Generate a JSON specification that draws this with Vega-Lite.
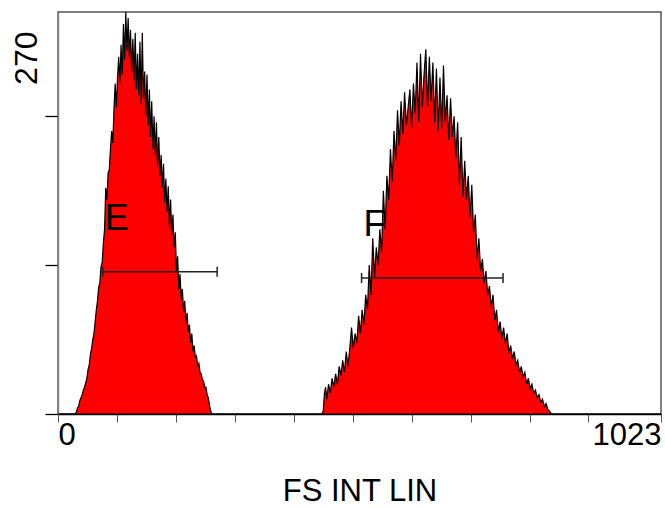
{
  "$schema": "https://vega.github.io/schema/vega-lite/v6.json",
  "autosize": {"type": "none"},
  "padding": {"left": 58, "top": 12, "right": 4, "bottom": 94},
  "width": 603,
  "height": 402,
  "background": "white",
  "config": {
    "view": {"stroke": "#555", "strokeWidth": 1.5},
    "font": "Liberation Sans"
  },
  "datasets": {
    "hist": [
      {"ch":0,"n":0},{"ch":28,"n":0},{"ch":31,"n":1},{"ch":33,"n":4},{"ch":35,"n":5},{"ch":37,"n":9},{"ch":39,"n":11},{"ch":41,"n":13},{"ch":43,"n":16},{"ch":45,"n":18},{"ch":47,"n":21},{"ch":49,"n":24},{"ch":51,"n":30},{"ch":53,"n":33},{"ch":55,"n":40},{"ch":57,"n":44},{"ch":59,"n":50},{"ch":61,"n":54},{"ch":63,"n":62},{"ch":65,"n":70},{"ch":67,"n":76},{"ch":69,"n":85},{"ch":71,"n":88},{"ch":73,"n":99},{"ch":75,"n":102},{"ch":77,"n":115},{"ch":79,"n":124},{"ch":81,"n":152},{"ch":83,"n":144},{"ch":85,"n":162},{"ch":87,"n":164},{"ch":89,"n":178},{"ch":91,"n":190},{"ch":93,"n":182},{"ch":95,"n":205},{"ch":97,"n":222},{"ch":99,"n":206},{"ch":101,"n":226},{"ch":103,"n":240},{"ch":105,"n":222},{"ch":107,"n":248},{"ch":109,"n":228},{"ch":111,"n":262},{"ch":113,"n":238},{"ch":115,"n":270},{"ch":117,"n":244},{"ch":119,"n":266},{"ch":121,"n":240},{"ch":123,"n":258},{"ch":125,"n":230},{"ch":127,"n":252},{"ch":129,"n":224},{"ch":131,"n":256},{"ch":133,"n":218},{"ch":135,"n":242},{"ch":137,"n":214},{"ch":139,"n":250},{"ch":141,"n":208},{"ch":143,"n":256},{"ch":145,"n":212},{"ch":147,"n":230},{"ch":149,"n":200},{"ch":151,"n":228},{"ch":153,"n":194},{"ch":155,"n":218},{"ch":157,"n":186},{"ch":159,"n":210},{"ch":161,"n":178},{"ch":163,"n":200},{"ch":165,"n":174},{"ch":167,"n":196},{"ch":169,"n":166},{"ch":171,"n":186},{"ch":173,"n":160},{"ch":175,"n":174},{"ch":177,"n":152},{"ch":179,"n":168},{"ch":181,"n":142},{"ch":183,"n":158},{"ch":185,"n":136},{"ch":187,"n":153},{"ch":189,"n":126},{"ch":191,"n":144},{"ch":193,"n":120},{"ch":195,"n":134},{"ch":197,"n":112},{"ch":199,"n":122},{"ch":201,"n":96},{"ch":203,"n":106},{"ch":205,"n":84},{"ch":207,"n":94},{"ch":209,"n":77},{"ch":211,"n":84},{"ch":213,"n":69},{"ch":215,"n":76},{"ch":217,"n":61},{"ch":219,"n":68},{"ch":221,"n":55},{"ch":223,"n":60},{"ch":225,"n":48},{"ch":227,"n":54},{"ch":229,"n":42},{"ch":231,"n":46},{"ch":233,"n":38},{"ch":235,"n":39},{"ch":237,"n":32},{"ch":239,"n":34},{"ch":241,"n":28},{"ch":243,"n":27},{"ch":245,"n":23},{"ch":247,"n":22},{"ch":249,"n":18},{"ch":251,"n":18},{"ch":253,"n":13},{"ch":255,"n":11},{"ch":257,"n":6},{"ch":259,"n":2},{"ch":261,"n":0},
      {"ch":448,"n":0},{"ch":450,"n":2},{"ch":452,"n":14},{"ch":454,"n":18},{"ch":456,"n":10},{"ch":459,"n":20},{"ch":462,"n":14},{"ch":465,"n":24},{"ch":468,"n":18},{"ch":471,"n":27},{"ch":474,"n":20},{"ch":477,"n":32},{"ch":480,"n":26},{"ch":483,"n":36},{"ch":486,"n":28},{"ch":489,"n":42},{"ch":492,"n":32},{"ch":495,"n":44},{"ch":498,"n":58},{"ch":501,"n":44},{"ch":504,"n":54},{"ch":507,"n":48},{"ch":510,"n":66},{"ch":513,"n":54},{"ch":516,"n":70},{"ch":519,"n":60},{"ch":522,"n":80},{"ch":525,"n":70},{"ch":528,"n":100},{"ch":531,"n":80},{"ch":534,"n":118},{"ch":537,"n":92},{"ch":540,"n":112},{"ch":543,"n":100},{"ch":546,"n":124},{"ch":549,"n":108},{"ch":552,"n":150},{"ch":555,"n":124},{"ch":558,"n":160},{"ch":561,"n":144},{"ch":564,"n":178},{"ch":567,"n":156},{"ch":570,"n":190},{"ch":573,"n":170},{"ch":576,"n":204},{"ch":579,"n":180},{"ch":582,"n":210},{"ch":585,"n":188},{"ch":588,"n":216},{"ch":591,"n":194},{"ch":594,"n":206},{"ch":597,"n":218},{"ch":600,"n":192},{"ch":603,"n":222},{"ch":606,"n":202},{"ch":609,"n":236},{"ch":612,"n":196},{"ch":615,"n":242},{"ch":618,"n":206},{"ch":621,"n":228},{"ch":624,"n":245},{"ch":627,"n":206},{"ch":630,"n":240},{"ch":633,"n":210},{"ch":636,"n":236},{"ch":639,"n":196},{"ch":642,"n":232},{"ch":645,"n":190},{"ch":648,"n":226},{"ch":651,"n":192},{"ch":654,"n":234},{"ch":657,"n":196},{"ch":660,"n":214},{"ch":663,"n":184},{"ch":666,"n":212},{"ch":669,"n":186},{"ch":672,"n":200},{"ch":675,"n":172},{"ch":678,"n":196},{"ch":681,"n":154},{"ch":684,"n":186},{"ch":687,"n":146},{"ch":690,"n":170},{"ch":693,"n":144},{"ch":696,"n":160},{"ch":699,"n":132},{"ch":702,"n":154},{"ch":705,"n":122},{"ch":708,"n":134},{"ch":711,"n":104},{"ch":714,"n":118},{"ch":717,"n":96},{"ch":720,"n":104},{"ch":723,"n":88},{"ch":726,"n":96},{"ch":729,"n":80},{"ch":732,"n":86},{"ch":735,"n":72},{"ch":738,"n":80},{"ch":741,"n":63},{"ch":744,"n":70},{"ch":747,"n":55},{"ch":750,"n":62},{"ch":753,"n":51},{"ch":756,"n":58},{"ch":759,"n":47},{"ch":762,"n":54},{"ch":765,"n":41},{"ch":768,"n":46},{"ch":771,"n":37},{"ch":774,"n":42},{"ch":777,"n":33},{"ch":780,"n":36},{"ch":783,"n":28},{"ch":786,"n":32},{"ch":789,"n":25},{"ch":792,"n":28},{"ch":795,"n":20},{"ch":798,"n":24},{"ch":801,"n":17},{"ch":804,"n":20},{"ch":807,"n":14},{"ch":810,"n":16},{"ch":813,"n":11},{"ch":816,"n":13},{"ch":819,"n":8},{"ch":822,"n":10},{"ch":825,"n":5},{"ch":828,"n":7},{"ch":831,"n":3},{"ch":834,"n":2},{"ch":837,"n":0},{"ch":1023,"n":0}
    ],
    "markers": [
      {"label": "E", "from": 76, "to": 270, "y": 95.6},
      {"label": "F", "from": 515, "to": 755, "y": 91.3}
    ]
  },
  "layer": [
    {
      "data": {"name": "hist"},
      "mark": {"type": "area", "interpolate": "linear", "fill": "#ff0000", "stroke": "#000000", "strokeWidth": 1.2, "clip": true},
      "encoding": {
        "x": {
          "field": "ch", "type": "quantitative",
          "scale": {"domain": [0, 1023], "nice": false, "zero": false},
          "axis": {
            "values": [0, 100, 200, 300, 400, 500, 600, 700, 800, 900, 1023],
            "format": "d",
            "labelExpr": "datum.value == 0 || datum.value == 1023 ? datum.label : ''",
            "labelFlush": true,
            "labelOverlap": false,
            "labelFont": "Liberation Sans",
            "labelFontSize": 31,
            "labelColor": "#000",
            "labelPadding": -2,
            "labelBaseline": "top",
            "tickSize": 8,
            "tickColor": "#555",
            "tickWidth": 1,
            "domainColor": "#000",
            "domainWidth": 1.5,
            "grid": false,
            "title": "FS INT LIN",
            "titleFont": "Liberation Sans",
            "titleFontSize": 31,
            "titleFontWeight": "normal",
            "titleColor": "#000",
            "titleBaseline": "alphabetic",
            "titleAlign": "center",
            "titleX": 301.5,
            "titleY": 86
          }
        },
        "y": {
          "field": "n", "type": "quantitative",
          "scale": {"domain": [0, 270], "nice": false},
          "axis": {
            "values": [0, 100, 200, 270],
            "labelExpr": "datum.value == 270 ? '270' : ''",
            "labelAngle": -90,
            "labelAlign": "right",
            "labelBaseline": "alphabetic",
            "labelOffset": 19,
            "labelPadding": 9,
            "labelOverlap": false,
            "labelFont": "Liberation Sans",
            "labelFontSize": 32,
            "labelColor": "#000",
            "tickSize": 13,
            "tickColor": "#000",
            "tickWidth": 1.3,
            "tickOpacity": {"condition": {"test": "datum.value == 270", "value": 0}, "value": 1},
            "domainColor": "#888",
            "domainWidth": 1.5,
            "grid": false,
            "title": null
          }
        }
      }
    },
    {
      "data": {"name": "markers"},
      "mark": {"type": "rule", "color": "#222", "strokeWidth": 1.5},
      "encoding": {
        "x": {"field": "from", "type": "quantitative"},
        "x2": {"field": "to"},
        "y": {"field": "y", "type": "quantitative"}
      }
    },
    {
      "data": {"name": "markers"},
      "transform": [{"fold": ["from", "to"], "as": ["end", "pos"]}],
      "mark": {"type": "tick", "orient": "vertical", "size": 10, "thickness": 1.5, "color": "#222", "opacity": 1},
      "encoding": {
        "x": {"field": "pos", "type": "quantitative"},
        "y": {"field": "y", "type": "quantitative"}
      }
    },
    {
      "data": {"name": "markers"},
      "mark": {"type": "text", "align": "left", "baseline": "alphabetic", "font": "Liberation Sans", "fontSize": 36, "color": "#000", "dx": 2, "dy": -42},
      "encoding": {
        "x": {"field": "from", "type": "quantitative"},
        "y": {"field": "y", "type": "quantitative"},
        "text": {"field": "label"}
      }
    }
  ]
}
